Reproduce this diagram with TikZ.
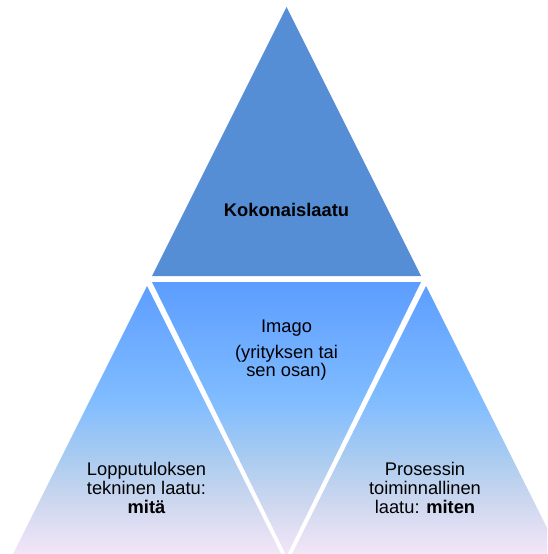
\documentclass[tikz,border=0pt]{standalone}
\usepackage{fontspec}
\setmainfont{Liberation Sans}
\definecolor{topblue}{HTML}{558ED5}
\definecolor{gA}{HTML}{5C9DFF}
\definecolor{gB}{HTML}{80BCFF}
\definecolor{gC}{HTML}{A8CBF0}
\definecolor{gD}{HTML}{CCD7EF}
\definecolor{gE}{HTML}{F5E6F8}
\pgfdeclareverticalshading{lowgrad}{100bp}{color(0bp)=(gE); color(25bp)=(gE); color(35bp)=(gD); color(43.3bp)=(gC); color(53.4bp)=(gB); color(75bp)=(gA); color(100bp)=(gA)}
\tikzset{
  lbl/.style={font={\fontsize{18.3}{19}\selectfont}, align=center, inner sep=0pt, text=black},
}
\begin{document}
\begin{tikzpicture}[x=1pt,y=-1pt]
\useasboundingbox (0,0) rectangle (547,554);
\fill[white] (0,0) rectangle (547,554);
% top triangle
\fill[topblue] (286.5,7) -- (421,276) -- (152,276) -- cycle;
% lower three triangles with one common gradient
\begin{scope}
  \clip (0,0) rectangle (547,554);
  \clip (147,286) -- (281,554) -- (13,554) -- cycle
        (152,282) -- (421,282) -- (286.5,556) -- cycle
        (426,286) -- (560,554) -- (292,554) -- cycle;
  \shade[shading=lowgrad] (0,282) rectangle (560,556);
\end{scope}
\node[lbl, anchor=base, font={\fontsize{18.3}{19}\selectfont\bfseries}] (koko) at (286.5,216) {Kokonaislaatu};
\node[lbl, anchor=north, font={\fontsize{18.3}{18.5}\selectfont}] (imago) at (286.5,320) {Imago\\[7pt](yrityksen tai\\sen osan)};
\node[lbl, anchor=north] (loppu) at (146.5,462) {Lopputuloksen\\tekninen laatu:\\\textbf{mitä}};
\node[lbl, anchor=north] (proses) at (425,462) {Prosessin\\toiminnallinen\\laatu: \textbf{miten}};
\end{tikzpicture}
\end{document}
